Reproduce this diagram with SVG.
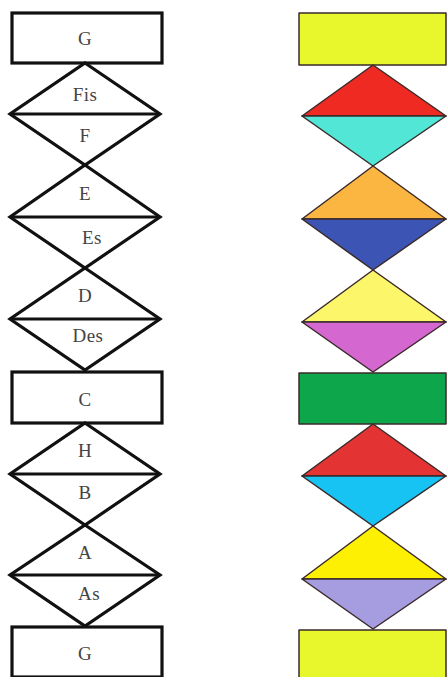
<svg xmlns="http://www.w3.org/2000/svg" width="447" height="677" viewBox="0 0 447 677">
<style>
.l{fill:#fff;stroke:#111;stroke-width:3.2;stroke-linejoin:miter}
.ln{stroke:#111;stroke-width:3.2}
.t{font-family:"Liberation Serif","Times New Roman",serif;font-size:19px;letter-spacing:0.5px;fill:#444;text-anchor:middle}
.r{stroke:#3a2a2a;stroke-width:1.5;stroke-linejoin:round}
</style>
<rect width="447" height="677" fill="#fff"/>
<g id="left">
<g id="g-top"><rect class="l" x="12" y="13" width="150" height="50"/><text class="t" x="85" y="45">G</text></g>
<g id="fis-f"><polygon class="l" points="85,63 160,114 85,165 10,114"/><line class="ln" x1="10" y1="114" x2="160" y2="114"/><text class="t" x="85" y="101">Fis</text><text class="t" x="85" y="142">F</text></g>
<g id="e-es"><polygon class="l" points="85,165 160,217 85,268 10,217"/><line class="ln" x1="10" y1="217" x2="160" y2="217"/><text class="t" x="85" y="200">E</text><text class="t" x="92" y="244">Es</text></g>
<g id="d-des"><polygon class="l" points="85,268 160,319 85,370 10,319"/><line class="ln" x1="10" y1="319" x2="160" y2="319"/><text class="t" x="85" y="302">D</text><text class="t" x="88" y="342">Des</text></g>
<g id="c"><rect class="l" x="12" y="372" width="150" height="51"/><text class="t" x="85" y="406">C</text></g>
<g id="h-b"><polygon class="l" points="85,423 160,474 85,525 10,474"/><line class="ln" x1="10" y1="474" x2="160" y2="474"/><text class="t" x="85" y="457">H</text><text class="t" x="85" y="499">B</text></g>
<g id="a-as"><polygon class="l" points="85,525 160,575 85,626 10,575"/><line class="ln" x1="10" y1="575" x2="160" y2="575"/><text class="t" x="85" y="559">A</text><text class="t" x="89" y="600">As</text></g>
<g id="g-bottom"><rect class="l" x="12" y="627" width="150" height="50"/><text class="t" x="85" y="660">G</text></g>
</g>
<g id="right">
<g id="y-top"><rect class="r" x="299" y="13" width="147" height="52" fill="#e7f72c"/></g>
<g id="red-cyan"><polygon class="r" points="373,65 446,116 302,116" fill="#ef2a22"/><polygon class="r" points="302,116 446,116 373,166" fill="#52e6d6"/></g>
<g id="orange-blue"><polygon class="r" points="373,166 446,219 302,219" fill="#fbb642"/><polygon class="r" points="302,219 446,219 373,270" fill="#3c55b5"/></g>
<g id="yellow-pink"><polygon class="r" points="373,270 446,322 302,322" fill="#fcf76a"/><polygon class="r" points="302,322 446,322 373,372" fill="#d468d0"/></g>
<g id="green"><rect class="r" x="299" y="373" width="147" height="51" fill="#0da64a"/></g>
<g id="red-sky"><polygon class="r" points="373,424 446,476 302,476" fill="#e43333"/><polygon class="r" points="302,476 446,476 373,526" fill="#16c3f2"/></g>
<g id="yellow-lav"><polygon class="r" points="373,526 446,579 302,579" fill="#fef002"/><polygon class="r" points="302,579 446,579 373,629" fill="#a69ce0"/></g>
<g id="y-bottom"><rect class="r" x="299" y="630" width="147" height="50" fill="#e7f72c"/></g>
</g>
</svg>
